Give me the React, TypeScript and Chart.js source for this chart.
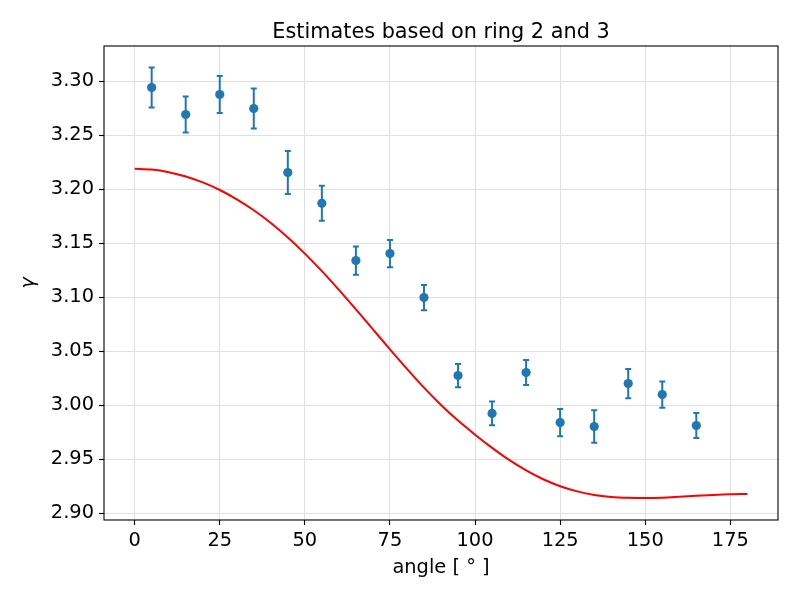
import React, { useRef, useEffect } from 'react';
import { Chart, registerables, type ChartConfiguration, type Plugin } from 'chart.js';

Chart.register(...registerables);

// measured angles (deg) and gamma estimates with 1-sigma errors
const angles = [5, 15, 25, 35, 45, 55, 65, 75, 85, 95, 105, 115, 125, 135, 145, 155, 165];
const gammaMean = [
  3.2942, 3.2692, 3.2877, 3.2747, 3.2155, 3.187, 3.134, 3.1404, 3.0997,
  3.0275, 2.9925, 3.0303, 2.984, 2.9803, 3.0201, 3.0099, 2.9812,
];
const gammaErr = [
  0.0186, 0.0167, 0.0171, 0.0185, 0.0199, 0.0162, 0.0131, 0.0126, 0.0117,
  0.0108, 0.011, 0.0116, 0.0126, 0.015, 0.0136, 0.0122, 0.0116,
];

// model curve (red line)
const modelAngles = [
  0, 5, 10, 15, 20, 25, 30, 35, 40, 45, 50, 55, 60, 65, 70, 75, 80, 85, 90,
  95, 100, 105, 110, 115, 120, 125, 130, 135, 140, 145, 150, 155, 160, 165, 170, 175, 180,
];
const modelGamma = [
  3.219, 3.2182, 3.2158, 3.2118, 3.2063, 3.1993, 3.1907, 3.1805, 3.1687, 3.1553,
  3.1404, 3.1242, 3.1069, 3.0888, 3.0703, 3.0518, 3.0337, 3.0163, 3.0003,
  2.9858, 2.9728, 2.9606, 2.9494, 2.9397, 2.9315, 2.9251, 2.9203, 2.917,
  2.9152, 2.9144, 2.9142, 2.9145, 2.9153, 2.9162, 2.917, 2.9176, 2.9179,
];

const xTicks = [0, 25, 50, 75, 100, 125, 150, 175];
const yTicks = [2.9, 2.95, 3.0, 3.05, 3.1, 3.15, 3.2, 3.25, 3.3];

const TITLE = 'Estimates based on ring 2 and 3';
const BLUE = '#1f77b4';
const FONT = 'DejaVu Sans';

const errorBars: Plugin<'scatter'> = {
  id: 'errorBars',
  beforeDatasetsDraw(chart) {
    const { ctx, scales } = chart;
    const x = scales.x;
    const y = scales.y;
    ctx.save();
    ctx.strokeStyle = BLUE;
    ctx.lineWidth = 2;
    angles.forEach((a, i) => {
      const px = x.getPixelForValue(a);
      const top = y.getPixelForValue(gammaMean[i] + gammaErr[i]);
      const bot = y.getPixelForValue(gammaMean[i] - gammaErr[i]);
      ctx.beginPath();
      ctx.moveTo(px, top);
      ctx.lineTo(px, bot);
      ctx.moveTo(px - 3, top);
      ctx.lineTo(px + 3, top);
      ctx.moveTo(px - 3, bot);
      ctx.lineTo(px + 3, bot);
      ctx.stroke();
    });
    ctx.restore();
  },
};

// matplotlib-style box around the axes + title centred on the plot area
const frame: Plugin<'scatter'> = {
  id: 'frame',
  afterDatasetsDraw(chart) {
    const { ctx, chartArea: a } = chart;
    ctx.save();
    ctx.strokeStyle = '#000';
    ctx.lineWidth = 1.1;
    ctx.strokeRect(a.left, a.top, a.right - a.left, a.bottom - a.top);
    ctx.fillStyle = '#000';
    ctx.font = `20.8px "${FONT}"`;
    ctx.textAlign = 'center';
    ctx.textBaseline = 'alphabetic';
    ctx.fillText(TITLE, (a.left + a.right) / 2, 37.7);
    ctx.restore();
  },
};

const App: React.FC = () => {
  const canvasRef = useRef<HTMLCanvasElement>(null);
  const chartRef = useRef<Chart | null>(null);

  useEffect(() => {
    if (!canvasRef.current) return;
    if (chartRef.current) {
      chartRef.current.destroy();
      chartRef.current = null;
    }

    const config: ChartConfiguration<'scatter'> = {
      type: 'scatter',
      data: {
        datasets: [
          {
            data: angles.map((a, i) => ({ x: a, y: gammaMean[i] })),
            backgroundColor: BLUE,
            borderWidth: 0,
            pointRadius: 4.6,
            showLine: false,
          },
          {
            data: modelAngles.map((a, i) => ({ x: a, y: modelGamma[i] })),
            borderColor: 'red',
            borderWidth: 2,
            pointRadius: 0,
            showLine: true,
            cubicInterpolationMode: 'monotone',
          },
        ],
      },
      options: {
        animation: false,
        responsive: true,
        maintainAspectRatio: false,
        devicePixelRatio: 1,
        layout: { padding: { left: 0, right: 22, top: 46, bottom: 0 } },
        plugins: {
          legend: { display: false },
          tooltip: { enabled: false },
          title: { display: false },
        },
        scales: {
          x: {
            type: 'linear',
            min: -9,
            max: 189,
            bounds: 'data',
            afterFit: (s) => { s.height = 80; },
            afterBuildTicks: (s) => { s.ticks = xTicks.map((v) => ({ value: v })); },
            grid: { color: '#e0e0e0', lineWidth: 1, tickColor: '#000', tickLength: 5, tickWidth: 1.1 },
            border: { display: false },
            ticks: {
              color: '#000',
              padding: 4,
              maxRotation: 0,
              font: { family: FONT, size: 19.4 },
              callback: (v) => String(v),
            },
            title: {
              display: true,
              text: 'angle [ ° ]',
              color: '#000',
              font: { family: FONT, size: 19.4 },
              padding: { top: 0, bottom: 20 },
            },
          },
          y: {
            type: 'linear',
            min: 2.8938,
            max: 3.3326,
            bounds: 'data',
            afterFit: (s) => { s.width = 104; },
            afterBuildTicks: (s) => { s.ticks = yTicks.map((v) => ({ value: v })); },
            grid: { color: '#e0e0e0', lineWidth: 1, tickColor: '#000', tickLength: 5, tickWidth: 1.1 },
            border: { display: false },
            ticks: {
              color: '#000',
              padding: 5,
              font: { family: FONT, size: 19.4 },
              callback: (v) => Number(v).toFixed(2),
            },
            title: {
              display: true,
              text: 'γ',
              color: '#000',
              font: { family: FONT, size: 19.4, style: 'italic' },
              padding: { top: 17, bottom: 0 },
            },
          },
        },
      },
      plugins: [errorBars, frame],
    };

    chartRef.current = new Chart(canvasRef.current, config as ChartConfiguration);

    return () => {
      if (chartRef.current) {
        chartRef.current.destroy();
        chartRef.current = null;
      }
    };
  }, []);

  return (
    <div style={{ position: 'absolute', left: 0, top: 0, width: 800, height: 600, background: '#fff' }}>
      <canvas ref={canvasRef} />
    </div>
  );
};

export default App;
